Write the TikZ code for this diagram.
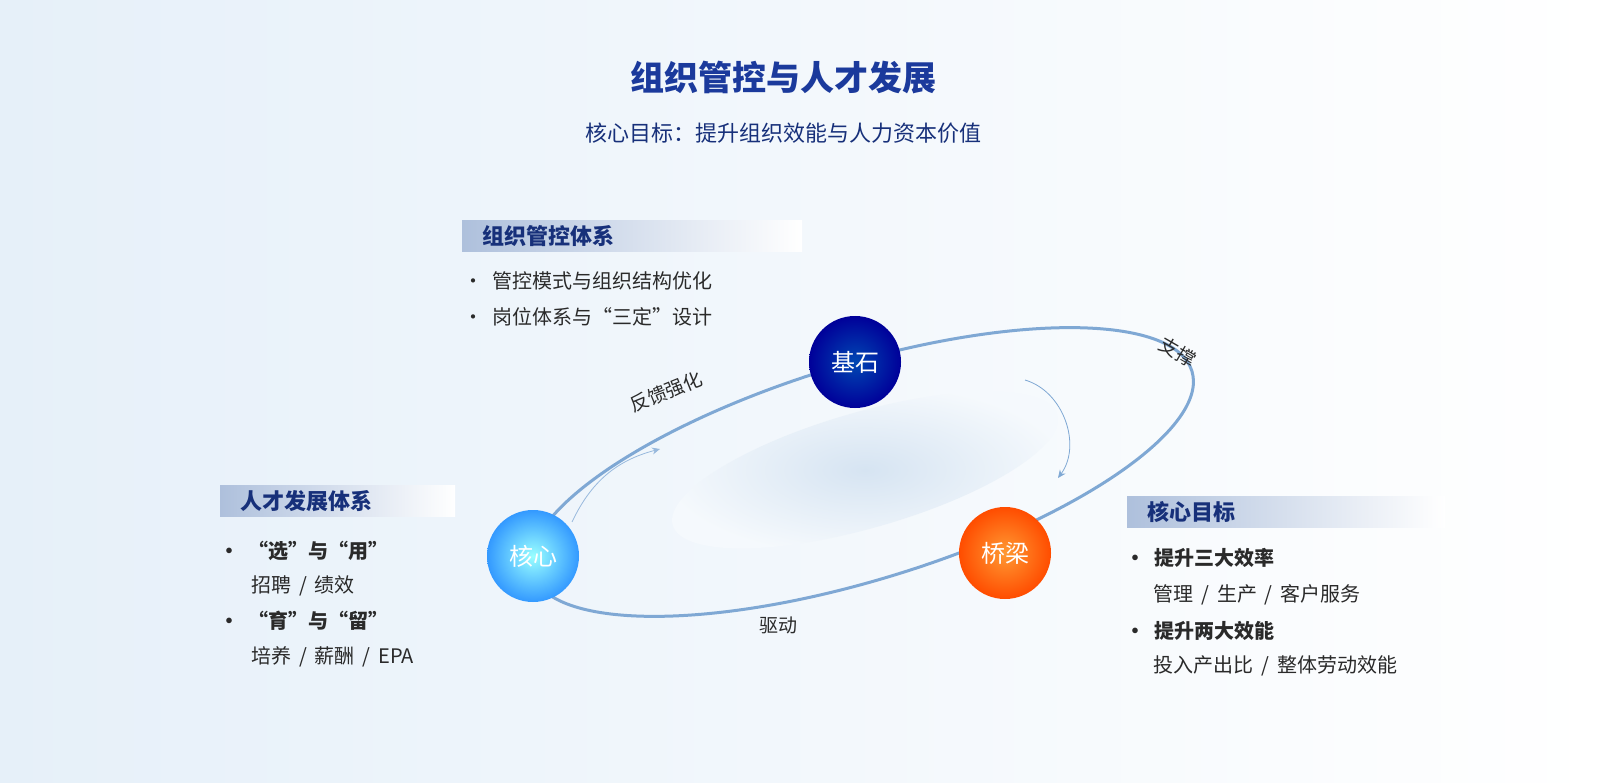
\documentclass[tikz,border=0pt]{standalone}
\usepackage{fontspec}
\setmainfont{Noto Sans CJK SC}
\newfontfamily\cjk{Noto Sans CJK SC}
\usepackage{tikz}
\usetikzlibrary{positioning,arrows.meta,shapes}
\definecolor{navy}{HTML}{1B3A9C}
\definecolor{deep}{HTML}{17307A}
\definecolor{ring}{HTML}{7FA8D4}
\definecolor{txt}{HTML}{2A2A2A}
\definecolor{bg}{HTML}{E6F0F9}
\definecolor{bar}{HTML}{AEC0DC}
\definecolor{haze}{HTML}{D6E4F2}
\def\fs#1{\fontsize{#1}{#1}\selectfont}
\begin{document}
\begin{tikzpicture}[x=1pt, y=-1pt, >={Stealth[width=7pt,length=8pt]},
  hub/.style={circle, minimum size=92pt, text=white, font=\fs{24}\cjk},
  head/.style={anchor=west, minimum height=31pt, text width=300pt, inner xsep=20pt, text=deep, left color=bar, right color=white, font=\fs{22}\cjk\bfseries},
  item/.style={anchor=west, text=txt, font=\fs{20}\cjk},
  tag/.style={text=txt, inner sep=0pt, font=\fs{19}\cjk}]
	\useasboundingbox (0,0) rectangle (1600,783);
	\shade[left color=bg, right color=white] (0,0) rectangle (1600,783);
	% titles
	\node[text=navy, font=\fs{34}\cjk\bfseries](title) at (783,78){组织管控与人才发展};
	\node[text=deep, font=\fs{22}\cjk](sub) at (783,133){核心目标：提升组织效能与人力资本价值};
	% ring
	\shade[inner color=haze, outer color=bg!40, rotate around={16:(865,470)}] (865,470) ellipse (200pt and 58pt);
	\draw[ring, line width=3pt, rotate around={17:(862,472)}] (862,472) ellipse (345pt and 108pt);
	\coordinate (a1) at (572,522); \coordinate (a2) at (660,449);
	\coordinate (b1) at (1025,380); \coordinate (b2) at (1058,478);
	\draw[->, ring!80, line width=0.8pt] (a1) to[bend left=25] (a2);
	\draw[->, ring, line width=0.8pt] (b1) to[bend left=55] (b2);
	% hubs
	\node[hub, inner color=blue!60!cyan!70!black, outer color=blue!60!black](base) at (855,362){基石};
	\node[hub, inner color=cyan!40, outer color=cyan!50!blue!80](core) at (533,556){核心};
	\node[hub, inner color=orange!80, outer color=orange!60!red](bridge) at (1005,553){桥梁};
	\node[tag, rotate=-30](support) at (1178,352){支撑};
	\node[tag, rotate=22](feed) at (666,392){反馈强化};
	\node[tag](drive) at (778,625){驱动};
	% panels
	\node[head](org) at (462,236){组织管控体系};
	\node[item](o1) at (460,281){•\ \ 管控模式与组织结构优化};
	\node[item](o2) at (460,317){•\ \ 岗位体系与“三定”设计};
	\node[head, text width=195pt](tal) at (220,501){人才发展体系};
	\node[item, font=\fs{20}\cjk\bfseries](t1) at (216,551){•\ \ “选”与“用”};
	\node[item](t2) at (248,586){招聘 \,/\, 绩效};
	\node[item, font=\fs{20}\cjk\bfseries](t3) at (216,621){•\ \ “育”与“留”};
	\node[item](t4) at (248,657){培养 \,/\, 薪酬 \,/\, EPA};
	\node[head, text width=278pt](goal) at (1127,512){核心目标};
	\node[item, font=\fs{20}\cjk\bfseries](g1) at (1122,558){•\ \ 提升三大效率};
	\node[item](g2) at (1150,595){管理 \,/\, 生产 \,/\, 客户服务};
	\node[item, font=\fs{20}\cjk\bfseries](g3) at (1122,631){•\ \ 提升两大效能};
	\node[item](g4) at (1150,666){投入产出比 \,/\, 整体劳动效能};
\end{tikzpicture}
\end{document}
